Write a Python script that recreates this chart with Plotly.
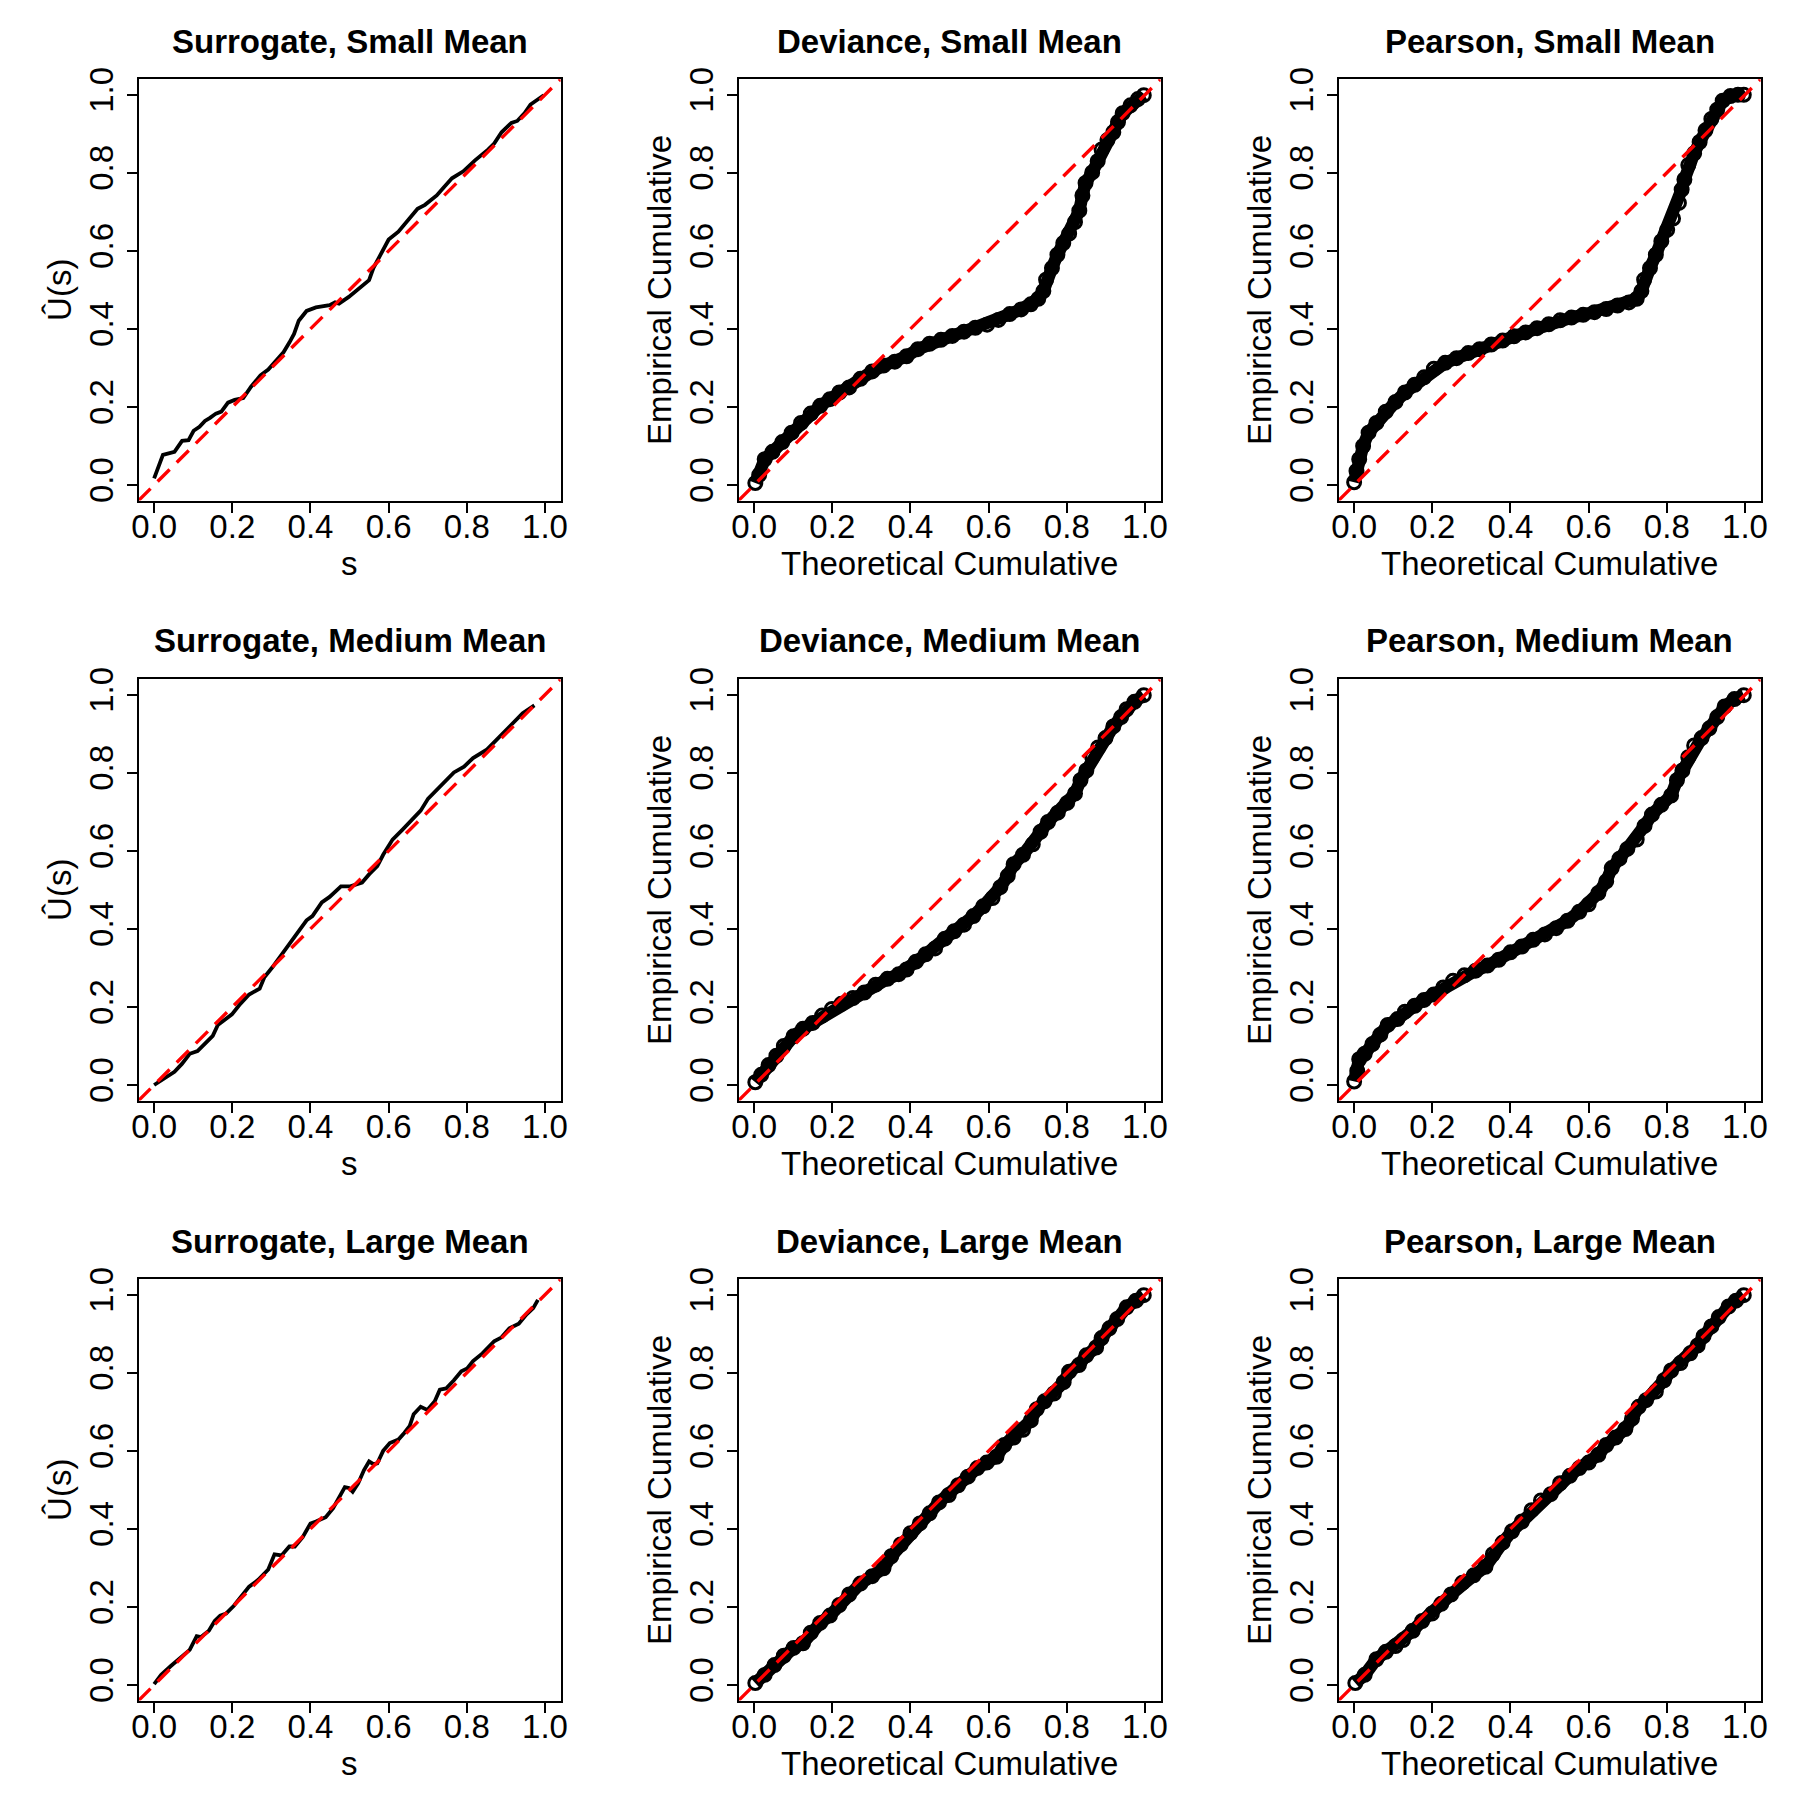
import plotly.graph_objects as go

# ---------------- data ----------------
TITLES = [
    ["Surrogate, Small Mean", "Deviance, Small Mean", "Pearson, Small Mean"],
    ["Surrogate, Medium Mean", "Deviance, Medium Mean", "Pearson, Medium Mean"],
    ["Surrogate, Large Mean", "Deviance, Large Mean", "Pearson, Large Mean"],
]
X_LABELS = ["s", "Theoretical Cumulative", "Theoretical Cumulative"]
Y_LABELS = ["Û(s)", "Empirical Cumulative", "Empirical Cumulative"]
TICK_VALUES = [0.0, 0.2, 0.4, 0.6, 0.8, 1.0]
TICK_LABELS = ["0.0", "0.2", "0.4", "0.6", "0.8", "1.0"]
AXIS_RANGE = [-0.04, 1.04]
REF_INTERCEPT = 0.0
REF_SLOPE = 1.0

# Surrogate, small mean (line)
sur_small_s = [0.0, 0.0225, 0.052, 0.0715, 0.088, 0.101, 0.116, 0.130, 0.143, 0.158, 0.172, 0.189, 0.206,
               0.228, 0.248, 0.272, 0.292, 0.311, 0.331, 0.346, 0.358, 0.370, 0.390, 0.414, 0.449, 0.463,
               0.473, 0.498, 0.522, 0.550, 0.561, 0.581, 0.600, 0.625, 0.649, 0.674, 0.693, 0.723, 0.742,
               0.762, 0.791, 0.821, 0.855, 0.870, 0.889, 0.914, 0.929, 0.948, 0.963, 0.977, 0.997]
sur_small_u = [0.017, 0.077, 0.085, 0.113, 0.115, 0.139, 0.149, 0.164, 0.172, 0.183, 0.188, 0.211, 0.218,
               0.223, 0.252, 0.281, 0.296, 0.316, 0.340, 0.365, 0.387, 0.421, 0.446, 0.455, 0.461, 0.468,
               0.465, 0.482, 0.502, 0.525, 0.556, 0.595, 0.629, 0.649, 0.678, 0.708, 0.718, 0.742, 0.764,
               0.786, 0.804, 0.832, 0.860, 0.875, 0.904, 0.928, 0.933, 0.953, 0.975, 0.985, 0.999]

# Surrogate, medium mean (line)
sur_med_s = [0.0, 0.018, 0.052, 0.071, 0.091, 0.111, 0.130, 0.150, 0.163, 0.184, 0.199, 0.218, 0.243,
             0.270, 0.282, 0.302, 0.326, 0.351, 0.370, 0.390, 0.405, 0.429, 0.449, 0.478, 0.502, 0.532,
             0.551, 0.571, 0.586, 0.610, 0.635, 0.659, 0.682, 0.701, 0.723, 0.747, 0.767, 0.793, 0.816,
             0.852, 0.875, 0.899, 0.919, 0.943, 0.973]
sur_med_u = [0.0, 0.012, 0.034, 0.054, 0.080, 0.087, 0.105, 0.126, 0.154, 0.169, 0.181, 0.205, 0.232,
             0.247, 0.276, 0.301, 0.335, 0.370, 0.394, 0.422, 0.433, 0.468, 0.482, 0.509, 0.509, 0.519,
             0.541, 0.561, 0.590, 0.629, 0.654, 0.678, 0.703, 0.734, 0.757, 0.781, 0.801, 0.816, 0.838,
             0.860, 0.884, 0.909, 0.928, 0.953, 0.973]

# Surrogate, large mean (line)
sur_large_s = [0.0, 0.018, 0.042, 0.067, 0.091, 0.109, 0.120, 0.140, 0.155, 0.169, 0.184, 0.204, 0.223,
               0.243, 0.267, 0.292, 0.308, 0.326, 0.346, 0.360, 0.380, 0.400, 0.414, 0.439, 0.458, 0.473,
               0.488, 0.498, 0.508, 0.522, 0.537, 0.550, 0.561, 0.571, 0.586, 0.603, 0.625, 0.640, 0.654,
               0.664, 0.682, 0.699, 0.718, 0.731, 0.747, 0.767, 0.786, 0.801, 0.816, 0.840, 0.870, 0.889,
               0.909, 0.933, 0.953, 0.970, 0.982]
sur_large_u = [0.002, 0.026, 0.048, 0.068, 0.090, 0.125, 0.123, 0.139, 0.164, 0.178, 0.183, 0.203, 0.227,
               0.252, 0.270, 0.296, 0.335, 0.332, 0.355, 0.355, 0.379, 0.414, 0.419, 0.430, 0.453, 0.479,
               0.507, 0.505, 0.495, 0.517, 0.551, 0.573, 0.566, 0.568, 0.600, 0.620, 0.629, 0.646, 0.664,
               0.694, 0.713, 0.705, 0.727, 0.757, 0.760, 0.781, 0.804, 0.811, 0.830, 0.850, 0.881, 0.891,
               0.914, 0.926, 0.950, 0.966, 0.987]

# Deviance, small mean (points)
dev_small_x = [0.003, 0.013, 0.027, 0.047, 0.072, 0.096, 0.120, 0.145, 0.169, 0.194, 0.218, 0.243, 0.272,
               0.302, 0.331, 0.360, 0.390, 0.419, 0.449, 0.478, 0.507, 0.537, 0.566, 0.596, 0.625, 0.654,
               0.683, 0.708, 0.727, 0.740, 0.747, 0.762, 0.776, 0.791, 0.806, 0.821, 0.832, 0.840, 0.848,
               0.865, 0.879, 0.889, 0.904, 0.919, 0.931, 0.943, 0.963, 0.982, 0.997]
dev_small_y = [0.005, 0.026, 0.066, 0.085, 0.110, 0.134, 0.159, 0.183, 0.203, 0.220, 0.237, 0.250, 0.272,
               0.291, 0.306, 0.316, 0.330, 0.348, 0.362, 0.372, 0.382, 0.393, 0.403, 0.411, 0.423, 0.438,
               0.450, 0.463, 0.477, 0.497, 0.526, 0.556, 0.590, 0.620, 0.644, 0.674, 0.703, 0.742, 0.774,
               0.801, 0.830, 0.860, 0.884, 0.904, 0.930, 0.953, 0.973, 0.989, 0.999]

# Pearson, small mean (points)
pea_small_x = [0.0, 0.006, 0.013, 0.023, 0.037, 0.057, 0.081, 0.106, 0.130, 0.155, 0.179, 0.204, 0.233,
               0.262, 0.292, 0.321, 0.351, 0.380, 0.409, 0.439, 0.468, 0.498, 0.527, 0.556, 0.586, 0.615,
               0.645, 0.674, 0.703, 0.723, 0.735, 0.742, 0.757, 0.772, 0.786, 0.801, 0.816, 0.831, 0.838,
               0.845, 0.855, 0.870, 0.884, 0.899, 0.914, 0.929, 0.943, 0.963, 0.982, 0.997]
pea_small_y = [0.007, 0.036, 0.066, 0.100, 0.134, 0.159, 0.188, 0.213, 0.237, 0.257, 0.276, 0.298, 0.313,
               0.325, 0.338, 0.348, 0.360, 0.370, 0.381, 0.391, 0.402, 0.412, 0.422, 0.429, 0.436, 0.443,
               0.451, 0.460, 0.468, 0.477, 0.497, 0.526, 0.556, 0.590, 0.625, 0.654, 0.683, 0.723, 0.757,
               0.783, 0.820, 0.850, 0.879, 0.909, 0.938, 0.962, 0.985, 0.997, 1.0, 1.0]

# Deviance, medium mean (points)
dev_med_x = [0.003, 0.018, 0.037, 0.057, 0.076, 0.101, 0.125, 0.150, 0.174, 0.199, 0.223, 0.253, 0.282,
             0.311, 0.341, 0.370, 0.390, 0.414, 0.439, 0.463, 0.488, 0.512, 0.537, 0.561, 0.586, 0.610,
             0.630, 0.649, 0.664, 0.688, 0.713, 0.733, 0.752, 0.777, 0.801, 0.821, 0.835, 0.850, 0.865,
             0.880, 0.899, 0.919, 0.939, 0.953, 0.973, 0.997]
dev_med_y = [0.007, 0.026, 0.051, 0.075, 0.100, 0.125, 0.144, 0.159, 0.178, 0.195, 0.208, 0.223, 0.237,
             0.257, 0.272, 0.284, 0.296, 0.316, 0.335, 0.350, 0.375, 0.394, 0.411, 0.433, 0.458, 0.479,
             0.507, 0.536, 0.566, 0.590, 0.617, 0.649, 0.674, 0.698, 0.723, 0.747, 0.781, 0.806, 0.840,
             0.865, 0.889, 0.919, 0.943, 0.963, 0.982, 0.999]

# Pearson, medium mean (points)
pea_med_x = [0.0, 0.008, 0.013, 0.027, 0.047, 0.067, 0.086, 0.111, 0.130, 0.155, 0.179, 0.204, 0.228,
             0.253, 0.282, 0.311, 0.341, 0.370, 0.400, 0.429, 0.458, 0.488, 0.517, 0.546, 0.576, 0.600,
             0.625, 0.645, 0.659, 0.679, 0.699, 0.723, 0.743, 0.762, 0.786, 0.811, 0.826, 0.840, 0.855,
             0.870, 0.889, 0.909, 0.929, 0.948, 0.973, 0.997]
pea_med_y = [0.009, 0.036, 0.066, 0.080, 0.105, 0.129, 0.154, 0.169, 0.188, 0.203, 0.218, 0.232, 0.250,
             0.267, 0.281, 0.293, 0.306, 0.321, 0.340, 0.355, 0.372, 0.386, 0.402, 0.421, 0.444, 0.463,
             0.492, 0.522, 0.556, 0.580, 0.605, 0.629, 0.664, 0.693, 0.718, 0.742, 0.781, 0.806, 0.840,
             0.870, 0.889, 0.914, 0.943, 0.970, 0.989, 0.999]

# Deviance, large mean (points)
dev_large_x = [0.003, 0.027, 0.052, 0.076, 0.101, 0.125, 0.145, 0.169, 0.194, 0.218, 0.243, 0.272, 0.302,
               0.331, 0.351, 0.375, 0.400, 0.424, 0.449, 0.473, 0.498, 0.522, 0.547, 0.571, 0.595, 0.620,
               0.640, 0.664, 0.688, 0.708, 0.723, 0.743, 0.767, 0.792, 0.806, 0.831, 0.850, 0.875, 0.889,
               0.909, 0.929, 0.953, 0.977, 0.997]
dev_large_y = [0.005, 0.026, 0.051, 0.075, 0.095, 0.107, 0.134, 0.159, 0.178, 0.205, 0.232, 0.260, 0.279,
               0.299, 0.330, 0.360, 0.389, 0.414, 0.440, 0.468, 0.487, 0.512, 0.534, 0.556, 0.570, 0.585,
               0.615, 0.634, 0.654, 0.678, 0.707, 0.727, 0.747, 0.776, 0.803, 0.820, 0.845, 0.865, 0.889,
               0.914, 0.938, 0.968, 0.985, 0.999]

# Pearson, large mean (points)
pea_large_x = [0.003, 0.027, 0.057, 0.081, 0.106, 0.125, 0.150, 0.174, 0.199, 0.223, 0.248, 0.277, 0.306,
               0.336, 0.355, 0.380, 0.404, 0.429, 0.454, 0.478, 0.503, 0.527, 0.552, 0.576, 0.600, 0.625,
               0.645, 0.669, 0.694, 0.711, 0.728, 0.747, 0.772, 0.793, 0.811, 0.835, 0.860, 0.879, 0.894,
               0.914, 0.933, 0.958, 0.977, 0.997]
pea_large_y = [0.005, 0.026, 0.066, 0.085, 0.100, 0.115, 0.139, 0.164, 0.183, 0.208, 0.232, 0.262, 0.281,
               0.303, 0.335, 0.365, 0.394, 0.419, 0.448, 0.473, 0.489, 0.517, 0.536, 0.556, 0.570, 0.590,
               0.615, 0.634, 0.656, 0.683, 0.713, 0.730, 0.752, 0.781, 0.806, 0.825, 0.850, 0.870, 0.894,
               0.919, 0.943, 0.970, 0.985, 0.999]

PANELS = [
    [(sur_small_s, sur_small_u, "line"), (dev_small_x, dev_small_y, "points"), (pea_small_x, pea_small_y, "points")],
    [(sur_med_s, sur_med_u, "line"), (dev_med_x, dev_med_y, "points"), (pea_med_x, pea_med_y, "points")],
    [(sur_large_s, sur_large_u, "line"), (dev_large_x, dev_large_y, "points"), (pea_large_x, pea_large_y, "points")],
]

# ---------------- layout geometry (pixels) ----------------
W = H = 1800
CELL = 600
BOX_L, BOX_R = 138.5, 560.6
BOX_T, BOX_B = 79.2, 500.6
FONT = "Liberation Sans, Arial, Helvetica, sans-serif"
FS = 33

fig = go.Figure()
annotations = []


def px(x):
    return x / W


def py(y):
    return 1 - y / H


for r in range(3):
    for c in range(3):
        k = r * 3 + c + 1
        xs, ys, kind = PANELS[r][c]
        xa = "x" if k == 1 else f"x{k}"
        ya = "y" if k == 1 else f"y{k}"
        if kind == "line":
            fig.add_trace(go.Scatter(x=xs, y=ys, mode="lines", xaxis=xa, yaxis=ya,
                                     line=dict(color="black", width=3.8), showlegend=False))
        else:
            fig.add_trace(go.Scatter(x=xs, y=ys, mode="lines+markers", xaxis=xa, yaxis=ya,
                                     line=dict(color="black", width=12.5),
                                     marker=dict(symbol="circle-open", size=13, color="black",
                                                 line=dict(width=3, color="black")),
                                     showlegend=False))
        ref_x = AXIS_RANGE
        ref_y = [REF_INTERCEPT + REF_SLOPE * v for v in ref_x]
        fig.add_trace(go.Scatter(x=ref_x, y=ref_y, mode="lines", xaxis=xa, yaxis=ya,
                                 line=dict(color="#ff0000", width=3.4, dash="17px,10px"),
                                 showlegend=False))

        x0 = c * CELL
        y0 = r * CELL
        axis_common = dict(range=AXIS_RANGE, showgrid=False, zeroline=False, showline=True,
                           mirror=True, linecolor="black", linewidth=1.8, ticks="outside",
                           ticklen=10, tickwidth=1.8, tickcolor="black", automargin=False,
                           tickvals=TICK_VALUES, ticktext=TICK_LABELS,
                           tickfont=dict(family=FONT, size=FS, color="black"))
        fig.layout[f"xaxis{'' if k == 1 else k}"] = dict(
            domain=[px(x0 + BOX_L), px(x0 + BOX_R)], anchor=ya, ticklabelstandoff=-14, **axis_common)
        fig.layout[f"yaxis{'' if k == 1 else k}"] = dict(
            domain=[py(y0 + BOX_B), py(y0 + BOX_T)], anchor=xa, tickangle=-90, **axis_common)

        cxm = x0 + (BOX_L + BOX_R) / 2
        cym = y0 + (BOX_T + BOX_B) / 2
        annotations.append(dict(text=f"<b>{TITLES[r][c]}</b>", x=px(cxm), y=py(y0 + 41),
                                xref="paper", yref="paper", xanchor="center", yanchor="middle",
                                showarrow=False, font=dict(family=FONT, size=FS, color="black")))
        annotations.append(dict(text=X_LABELS[c], x=px(cxm), y=py(y0 + 563),
                                xref="paper", yref="paper", xanchor="center", yanchor="middle",
                                showarrow=False, font=dict(family=FONT, size=FS, color="black")))
        annotations.append(dict(text=Y_LABELS[c], x=px(x0 + 60), y=py(cym), textangle=-90,
                                xref="paper", yref="paper", xanchor="center", yanchor="middle",
                                showarrow=False, font=dict(family=FONT, size=FS, color="black")))

fig.update_layout(template="none", width=W, height=H,
                  margin=dict(l=0, r=0, t=0, b=0, autoexpand=False),
                  paper_bgcolor="white", plot_bgcolor="white", annotations=annotations,
                  font=dict(family=FONT, size=FS, color="black"))

fig.write_html("out.html")
